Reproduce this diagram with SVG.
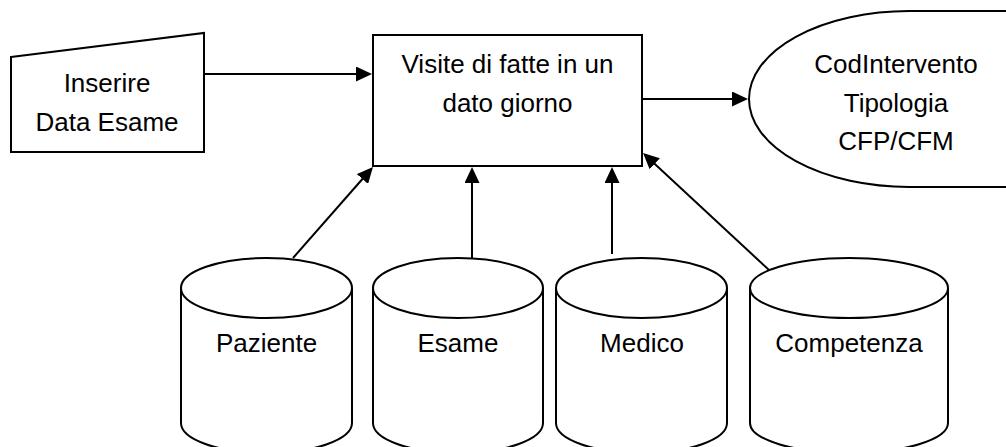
<svg xmlns="http://www.w3.org/2000/svg" width="1006" height="447" viewBox="0 0 1006 447">
<style>
.s{fill:#fff;stroke:#000;stroke-width:2}
.t{font-family:"Liberation Sans",Arial,sans-serif;font-size:26px;fill:#000;text-anchor:middle}
.c{stroke:#000;stroke-width:2;fill:none;marker-end:url(#ah)}
</style>
<defs>
<marker id="ah" markerUnits="userSpaceOnUse" markerWidth="16" markerHeight="15" refX="8" refY="7.5" orient="auto" viewBox="0 0 16 15">
<path d="M0,0 L16,7.5 L0,15 z" fill="#000"/>
</marker>
</defs>
<rect width="1006" height="447" fill="#fff"/>
<g id="input">
<polygon class="s" points="11,57 204,33 204,152 11,152"/>
<text class="t" x="107" y="92">Inserire</text>
<text class="t" x="107" y="131">Data Esame</text>
</g>
<g id="process">
<rect class="s" x="373" y="35" width="269" height="131"/>
<text class="t" x="507.5" y="73">Visite di fatte in un</text>
<text class="t" x="507.5" y="112">dato giorno</text>
</g>
<g id="display">
<path class="s" d="M1012,11 H909 A160 88 0 0 0 909,187 H1012"/>
<text class="t" x="896" y="73">CodIntervento</text>
<text class="t" x="896" y="111.5">Tipologia</text>
<text class="t" x="896" y="150">CFP/CFM</text>
</g>
<g id="paziente">
<path class="s" d="M181,288 V423 A85.5 30 0 0 0 352,423 V288"/>
<ellipse class="s" cx="266.5" cy="288" rx="85.5" ry="30"/>
<text class="t" x="266.5" y="352">Paziente</text>
</g>
<g id="esame">
<path class="s" d="M373,288 V423 A85 30 0 0 0 543,423 V288"/>
<ellipse class="s" cx="458" cy="288" rx="85" ry="30"/>
<text class="t" x="458" y="352">Esame</text>
</g>
<g id="medico">
<path class="s" d="M556,288 V423 A85.5 30 0 0 0 727,423 V288"/>
<ellipse class="s" cx="641.5" cy="288" rx="85.5" ry="30"/>
<text class="t" x="642" y="352">Medico</text>
</g>
<g id="competenza">
<path class="s" d="M750,288 V423 A99 30 0 0 0 948,423 V288"/>
<ellipse class="s" cx="849" cy="288" rx="99" ry="30"/>
<text class="t" x="849" y="352">Competenza</text>
</g>
<g id="connectors">
<line class="c" x1="204" y1="74" x2="364" y2="74"/>
<line class="c" x1="642" y1="99" x2="740" y2="99"/>
<line class="c" x1="293" y1="258" x2="367.7" y2="173"/>
<line class="c" x1="472" y1="258" x2="472" y2="175"/>
<line class="c" x1="612" y1="254" x2="612" y2="175"/>
<line class="c" x1="769" y1="270" x2="648.9" y2="158.4"/>
</g>
</svg>
